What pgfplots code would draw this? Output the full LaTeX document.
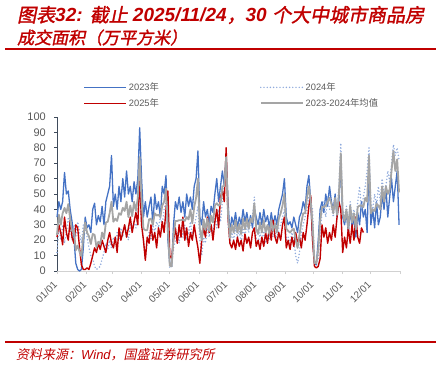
\documentclass[border=0pt]{standalone}
\usepackage{fontspec}
\setmainfont{Liberation Sans}
\newfontfamily\cjk{Noto Sans CJK SC}
\newfontfamily\cjkti[FakeSlant=0.2,FakeBold=1.5]{Noto Sans CJK SC}
\newfontfamily\cjksrc[FakeSlant=0.2]{Noto Sans CJK SC}
\usepackage{pgfplots}
\pgfplotsset{compat=1.18}
\usepackage{pgfplotstable}
\definecolor{titlered}{HTML}{C00000}
\definecolor{cA}{HTML}{4472C4}
\definecolor{cB}{HTML}{8FAADC}
\definecolor{cC}{HTML}{C00000}
\definecolor{cD}{HTML}{A5A5A5}
\definecolor{tick}{HTML}{595959}
\definecolor{yaxis}{HTML}{3F4B5B}
\newcommand\T[1]{{\bfseries\itshape #1}}

\pgfplotstableread[row sep=\\]{d v\\
0 35\\ 2 45\\ 4 40\\ 6 45\\ 8 64\\ 10 50\\ 12 52\\ 14 40\\ 16 32\\ 18 22\\ 20 5\\ 22 1\\ 24 0\\ 26 1\\ 28 15\\ 30 35\\ 32 28\\ 34 30\\ 36 25\\ 38 40\\ 40 44\\ 42 30\\ 44 36\\ 46 32\\ 48 42\\ 50 30\\ 52 45\\ 54 50\\ 56 55\\ 58 75\\ 60 42\\ 62 50\\ 64 40\\ 66 55\\ 68 45\\ 70 60\\ 72 48\\ 74 65\\ 76 50\\ 78 55\\ 80 45\\ 82 58\\ 84 50\\ 86 60\\ 88 93\\ 90 60\\ 92 35\\ 94 45\\ 96 35\\ 98 42\\ 100 48\\ 102 30\\ 104 50\\ 106 40\\ 108 45\\ 110 35\\ 112 55\\ 114 50\\ 116 62\\ 118 20\\ 120 5\\ 122 3\\ 124 30\\ 126 45\\ 128 40\\ 130 48\\ 132 38\\ 134 45\\ 136 35\\ 138 50\\ 140 42\\ 142 48\\ 144 40\\ 146 55\\ 148 60\\ 150 78\\ 152 35\\ 154 30\\ 156 45\\ 158 35\\ 160 40\\ 162 30\\ 164 42\\ 166 38\\ 168 50\\ 170 60\\ 172 45\\ 174 55\\ 176 65\\ 178 55\\ 180 76\\ 182 45\\ 184 25\\ 186 35\\ 188 30\\ 190 38\\ 192 28\\ 194 35\\ 196 30\\ 198 40\\ 200 32\\ 202 38\\ 204 30\\ 206 36\\ 208 28\\ 210 40\\ 212 35\\ 214 30\\ 216 38\\ 218 30\\ 220 40\\ 222 32\\ 224 36\\ 226 28\\ 228 38\\ 230 30\\ 232 36\\ 234 30\\ 236 40\\ 238 45\\ 240 50\\ 242 60\\ 244 35\\ 246 30\\ 248 32\\ 250 28\\ 252 35\\ 254 30\\ 256 25\\ 258 35\\ 260 38\\ 262 45\\ 264 40\\ 266 55\\ 268 62\\ 270 45\\ 272 20\\ 274 5\\ 276 4\\ 278 20\\ 280 40\\ 282 45\\ 284 38\\ 286 50\\ 288 42\\ 290 55\\ 292 45\\ 294 40\\ 296 50\\ 298 35\\ 300 45\\ 302 70\\ 304 35\\ 306 30\\ 308 38\\ 310 25\\ 312 40\\ 314 28\\ 316 35\\ 318 22\\ 320 38\\ 322 30\\ 324 45\\ 326 35\\ 328 40\\ 330 25\\ 332 70\\ 334 30\\ 336 40\\ 338 28\\ 340 45\\ 342 30\\ 344 35\\ 346 50\\ 348 40\\ 350 55\\ 352 35\\ 354 48\\ 356 60\\ 358 45\\ 360 55\\ 362 65\\ 364 30\\
}\tA

\pgfplotstableread[row sep=\\]{d v\\
0 12\\ 2 28\\ 4 20\\ 6 30\\ 8 18\\ 10 25\\ 12 35\\ 14 28\\ 16 20\\ 18 30\\ 20 22\\ 22 32\\ 24 25\\ 26 18\\ 28 30\\ 30 28\\ 32 22\\ 34 15\\ 36 10\\ 38 8\\ 40 3\\ 42 1\\ 44 2\\ 46 3\\ 48 8\\ 50 12\\ 52 18\\ 54 14\\ 56 20\\ 58 15\\ 60 22\\ 62 18\\ 64 25\\ 66 20\\ 68 28\\ 70 22\\ 72 30\\ 74 25\\ 76 20\\ 78 30\\ 80 26\\ 82 32\\ 84 28\\ 86 35\\ 88 55\\ 90 30\\ 92 20\\ 94 8\\ 96 18\\ 98 25\\ 100 20\\ 102 30\\ 104 25\\ 106 32\\ 108 28\\ 110 35\\ 112 30\\ 114 40\\ 116 45\\ 118 35\\ 120 2\\ 122 3\\ 124 15\\ 126 20\\ 128 25\\ 130 18\\ 132 28\\ 134 22\\ 136 30\\ 138 20\\ 140 25\\ 142 32\\ 144 22\\ 146 28\\ 148 35\\ 150 42\\ 152 20\\ 154 10\\ 156 22\\ 158 18\\ 160 28\\ 162 22\\ 164 30\\ 166 25\\ 168 35\\ 170 28\\ 172 40\\ 174 32\\ 176 45\\ 178 55\\ 180 72\\ 182 30\\ 184 18\\ 186 25\\ 188 20\\ 190 28\\ 192 22\\ 194 26\\ 196 18\\ 198 28\\ 200 22\\ 202 30\\ 204 25\\ 206 32\\ 208 35\\ 210 48\\ 212 20\\ 214 18\\ 216 25\\ 218 20\\ 220 26\\ 222 18\\ 224 24\\ 226 20\\ 228 28\\ 230 22\\ 232 26\\ 234 20\\ 236 28\\ 238 30\\ 240 35\\ 242 40\\ 244 20\\ 246 22\\ 248 18\\ 250 25\\ 252 20\\ 254 10\\ 256 5\\ 258 12\\ 260 25\\ 262 30\\ 264 35\\ 266 40\\ 268 48\\ 270 45\\ 272 40\\ 274 5\\ 276 6\\ 278 8\\ 280 25\\ 282 38\\ 284 45\\ 286 35\\ 288 48\\ 290 40\\ 292 42\\ 294 35\\ 296 45\\ 298 38\\ 300 55\\ 302 83\\ 304 40\\ 306 35\\ 308 42\\ 310 30\\ 312 45\\ 314 35\\ 316 40\\ 318 32\\ 320 45\\ 322 55\\ 324 40\\ 326 48\\ 328 55\\ 330 65\\ 332 80\\ 334 45\\ 336 40\\ 338 50\\ 340 42\\ 342 55\\ 344 45\\ 346 60\\ 348 50\\ 350 55\\ 352 65\\ 354 58\\ 356 70\\ 358 82\\ 360 75\\ 362 80\\ 364 72\\
}\tB

\pgfplotstableread[row sep=\\]{d v\\
0 22\\ 2 30\\ 4 25\\ 6 17\\ 8 35\\ 10 25\\ 12 20\\ 14 33\\ 16 22\\ 18 18\\ 20 30\\ 22 28\\ 24 15\\ 26 4\\ 28 1\\ 30 1\\ 32 2\\ 34 1\\ 36 5\\ 38 10\\ 40 15\\ 42 12\\ 44 18\\ 46 14\\ 48 20\\ 50 16\\ 52 12\\ 54 20\\ 56 25\\ 58 18\\ 60 15\\ 62 22\\ 64 12\\ 66 28\\ 68 20\\ 70 25\\ 72 30\\ 74 22\\ 76 28\\ 78 35\\ 80 25\\ 82 32\\ 84 38\\ 86 30\\ 88 62\\ 90 30\\ 92 20\\ 94 7\\ 96 22\\ 98 18\\ 100 30\\ 102 20\\ 104 25\\ 106 15\\ 108 28\\ 110 22\\ 112 32\\ 114 25\\ 116 40\\ 118 52\\ 120 10\\ 122 8\\ 124 20\\ 126 28\\ 128 18\\ 130 30\\ 132 22\\ 134 35\\ 136 20\\ 138 28\\ 140 16\\ 142 25\\ 144 20\\ 146 30\\ 148 22\\ 150 15\\ 152 5\\ 154 20\\ 156 28\\ 158 22\\ 160 35\\ 162 25\\ 164 30\\ 166 20\\ 168 32\\ 170 40\\ 172 28\\ 174 48\\ 176 52\\ 178 45\\ 180 80\\ 182 35\\ 184 18\\ 186 15\\ 188 20\\ 190 14\\ 192 22\\ 194 16\\ 196 20\\ 198 13\\ 200 24\\ 202 18\\ 204 22\\ 206 15\\ 208 25\\ 210 28\\ 212 16\\ 214 20\\ 216 14\\ 218 22\\ 220 16\\ 222 25\\ 224 18\\ 226 28\\ 228 20\\ 230 33\\ 232 22\\ 234 18\\ 236 25\\ 238 20\\ 240 30\\ 242 35\\ 244 15\\ 246 20\\ 248 14\\ 250 22\\ 252 16\\ 254 25\\ 256 18\\ 258 22\\ 260 15\\ 262 25\\ 264 20\\ 266 30\\ 268 42\\ 270 49\\ 272 20\\ 274 3\\ 276 2\\ 278 3\\ 280 8\\ 282 30\\ 284 22\\ 286 28\\ 288 18\\ 290 25\\ 292 20\\ 294 30\\ 296 22\\ 298 35\\ 300 45\\ 302 40\\ 304 12\\ 306 22\\ 308 15\\ 310 28\\ 312 18\\ 314 30\\ 316 20\\ 318 35\\ 320 22\\ 322 18\\ 324 28\\ 326 25\\
}\tC

\pgfplotstableread[row sep=\\]{d v\\
0 23.5\\ 2 36.5\\ 4 30\\ 6 37.5\\ 8 41\\ 10 37.5\\ 12 43.5\\ 14 34\\ 16 26\\ 18 26\\ 20 13.5\\ 22 16.5\\ 24 12.5\\ 26 9.5\\ 28 22.5\\ 30 31.5\\ 32 25\\ 34 22.5\\ 36 17.5\\ 38 24\\ 40 23.5\\ 42 15.5\\ 44 19\\ 46 17.5\\ 48 25\\ 50 21\\ 52 31.5\\ 54 32\\ 56 37.5\\ 58 45\\ 60 32\\ 62 34\\ 64 32.5\\ 66 37.5\\ 68 36.5\\ 70 41\\ 72 39\\ 74 45\\ 76 35\\ 78 42.5\\ 80 35.5\\ 82 45\\ 84 39\\ 86 47.5\\ 88 74\\ 90 45\\ 92 27.5\\ 94 26.5\\ 96 26.5\\ 98 33.5\\ 100 34\\ 102 30\\ 104 37.5\\ 106 36\\ 108 36.5\\ 110 35\\ 112 42.5\\ 114 45\\ 116 53.5\\ 118 27.5\\ 120 3.5\\ 122 3\\ 124 22.5\\ 126 32.5\\ 128 32.5\\ 130 33\\ 132 33\\ 134 33.5\\ 136 32.5\\ 138 35\\ 140 33.5\\ 142 40\\ 144 31\\ 146 41.5\\ 148 47.5\\ 150 60\\ 152 27.5\\ 154 20\\ 156 33.5\\ 158 26.5\\ 160 34\\ 162 26\\ 164 36\\ 166 31.5\\ 168 42.5\\ 170 44\\ 172 42.5\\ 174 43.5\\ 176 55\\ 178 55\\ 180 74\\ 182 37.5\\ 184 21.5\\ 186 30\\ 188 25\\ 190 33\\ 192 25\\ 194 30.5\\ 196 24\\ 198 34\\ 200 27\\ 202 34\\ 204 27.5\\ 206 34\\ 208 31.5\\ 210 44\\ 212 27.5\\ 214 24\\ 216 31.5\\ 218 25\\ 220 33\\ 222 25\\ 224 30\\ 226 24\\ 228 33\\ 230 26\\ 232 31\\ 234 25\\ 236 34\\ 238 37.5\\ 240 42.5\\ 242 50\\ 244 27.5\\ 246 26\\ 248 25\\ 250 26.5\\ 252 27.5\\ 254 20\\ 256 15\\ 258 23.5\\ 260 31.5\\ 262 37.5\\ 264 37.5\\ 266 47.5\\ 268 55\\ 270 45\\ 272 30\\ 274 5\\ 276 5\\ 278 14\\ 280 32.5\\ 282 41.5\\ 284 41.5\\ 286 42.5\\ 288 45\\ 290 47.5\\ 292 43.5\\ 294 37.5\\ 296 47.5\\ 298 36.5\\ 300 50\\ 302 76.5\\ 304 37.5\\ 306 32.5\\ 308 40\\ 310 27.5\\ 312 42.5\\ 314 31.5\\ 316 37.5\\ 318 27\\ 320 41.5\\ 322 42.5\\ 324 42.5\\ 326 41.5\\ 328 47.5\\ 330 45\\ 332 75\\ 334 37.5\\ 336 40\\ 338 39\\ 340 43.5\\ 342 42.5\\ 344 40\\ 346 55\\ 348 45\\ 350 55\\ 352 50\\ 354 53\\ 356 65\\ 358 78\\ 360 65\\ 362 72.5\\ 364 51\\
}\tD

\begin{document}
\begin{tikzpicture}
\useasboundingbox (0pt,0pt) rectangle (448pt,365pt);
% title
\node[anchor=base west, inner sep=0pt, text=titlered, font=\fontsize{19}{22}\selectfont] at (17pt,343pt)
  {{\cjkti 图表}\T{32:} {\cjkti 截止} \T{2025/11/24}{\cjkti ，}\T{30} {\cjkti 个大中城市商品房}};
\node[anchor=base west, inner sep=0pt, text=titlered, font=\fontsize{17}{20}\selectfont] at (17pt,321pt)
  {{\cjkti 成交面积（万平方米）}};
\draw[titlered, line width=1.5pt] (5pt,316pt) -- (436pt,316pt);
\draw[titlered, line width=1.5pt] (5pt,23pt) -- (436pt,23pt);
\node[anchor=base west, inner sep=0pt, text=titlered, font=\fontsize{13}{15}\selectfont] at (16pt,6pt)
  {{\cjksrc 资料来源：}{\itshape Wind}{\cjksrc ，国盛证券研究所}};

\begin{axis}[
  at={(57pt,94pt)}, anchor=origin,
  scale only axis, width=343pt, height=154pt,
  xmin=0, xmax=365, ymin=0, ymax=100,
  axis x line*=bottom, axis y line*=left,
  x axis line style={draw=black!18, line width=0.8pt},
  y axis line style={draw=yaxis, line width=0.9pt},
  xtick={0,31,59,90,120,151,181,212,243,273,304,334,365},
  xticklabels={01/01,02/01,03/01,04/01,05/01,06/01,07/01,08/01,09/01,10/01,11/01,12/01,},
  ytick={0,10,...,100},
  tick align=outside, major tick length=3pt,
  x tick style={draw=black!18, line width=0.8pt},
  y tick style={draw=yaxis, line width=0.9pt},
  xticklabel style={yshift=-9pt, xshift=-1.5pt, rotate=45, anchor=east, font=\fontsize{10}{12}\selectfont, text=tick, inner sep=0pt},
  yticklabel style={font=\fontsize{11}{13}\selectfont, text=tick, inner sep=0pt, xshift=-8pt},
  /pgf/number format/assume math mode=true,
  clip=false,
  legend columns=2,
  legend cell align=left,
  legend image code/.code={\draw[#1] (0pt,0pt) -- (42pt,0pt);},
  legend style={at={(axis description cs:0.068,1.25)}, anchor=north west, draw=none, fill=none,
    font=\fontsize{9.3}{11}\selectfont, text=tick, row sep=2.5pt,
    /tikz/every even column/.append style={column sep=99pt}},
]
\addplot[cA, line width=1.3pt, line join=round] table[x=d,y=v] {\tA};
\addlegendentry{2023{\cjk 年}}
\addplot[cB, line width=1.6pt, line cap=round, dash pattern=on 0pt off 3.2pt] table[x=d,y=v] {\tB};
\addlegendentry{2024{\cjk 年}}
\addplot[cC, line width=1.4pt, line join=round] table[x=d,y=v] {\tC};
\addlegendentry{2025{\cjk 年}}
\addplot[cD, line width=1.8pt, line join=round] table[x=d,y=v] {\tD};
\addlegendentry{2023-2024{\cjk 年均值}}
\end{axis}
\end{tikzpicture}
\end{document}
